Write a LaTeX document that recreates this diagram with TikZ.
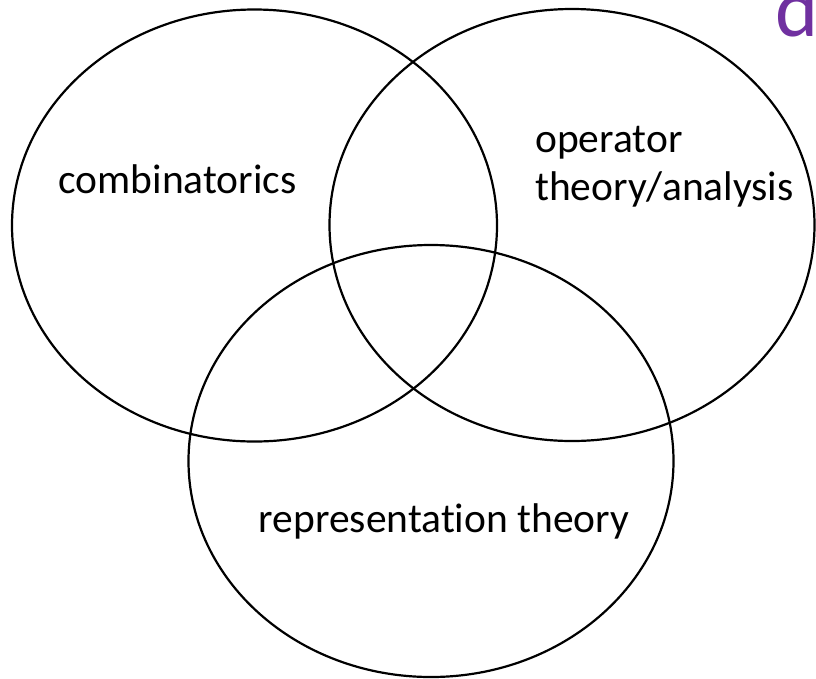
\documentclass[tikz,border=0pt]{standalone}
\usepackage{fontspec}
\setmainfont[Ligatures=NoCommon]{Carlito}
\usetikzlibrary{shapes.geometric}
\definecolor{titlepurple}{HTML}{7030A0}
\begin{document}
\begin{tikzpicture}[x=1pt,y=-1pt,
  venn/.style={ellipse, draw=black, line width=2.2pt, inner sep=0pt,
    minimum width=485pt, minimum height=432pt},
  label/.style={inner sep=0pt, font=\fontsize{41.5}{48}\selectfont, text=black}]
\useasboundingbox (0,0) rectangle (816,678);
\clip (0,0) rectangle (816,678);
\node[venn] (left) at (254.5,225.5) {};
\node[venn] (right) at (572,225) {};
\node[venn] (bottom) at (431,461) {};
\node[label, anchor=base] (comb) at (177.5,193) {combinatorics};
\node[label, anchor=base west] (oper) at (535,152)
  {\fontsize{41.5}{48}\selectfont\begin{tabular}[t]{@{}l@{}}operator\\theory/analysis\end{tabular}};
\node[label, anchor=base] (rep) at (444,532) {representation theory};
\node[inner sep=0pt, anchor=base west, text=titlepurple,
  font=\fontsize{82}{90}\selectfont] (title) at (775,36) {d};
\end{tikzpicture}
\end{document}
